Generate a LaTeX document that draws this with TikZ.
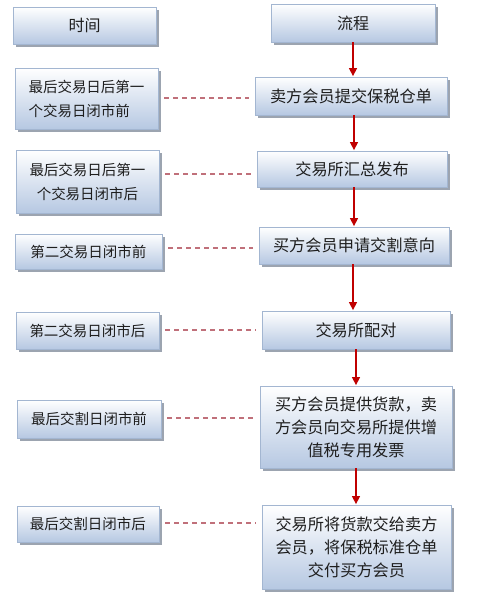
\documentclass[tikz,border=0pt]{standalone}
\usepackage{fontspec}
\setmainfont{Noto Sans CJK SC}
\usetikzlibrary{shadows,arrows.meta}
\definecolor{boxline}{HTML}{A3B6D1}
\definecolor{boxbot}{HTML}{B6C8E2}
\definecolor{shad}{HTML}{9CA4B0}
\definecolor{arrred}{HTML}{C00000}
\definecolor{dashred}{HTML}{C0707A}
\definecolor{txt}{HTML}{1E1E1E}
\tikzset{
  box/.style={draw=boxline, line width=0.8pt, top color=white, bottom color=boxbot,
    text=txt, inner sep=0pt, align=center,
    drop shadow={shadow xshift=2.5pt, shadow yshift=-2.5pt, fill=shad, opacity=1}},
  lbox/.style={box, font=\fontsize{14.5}{24}\selectfont},
  rbox/.style={box, font=\fontsize{16.2}{23}\selectfont},
  hbox/.style={box, font=\fontsize{16}{20}\selectfont},
  flowarr/.style={draw=arrred, line width=1.4pt, -{Triangle[length=8pt,width=8pt]}, shorten >=0.5pt},
  dashln/.style={draw=dashred, line width=1.1pt, dash pattern=on 5pt off 4pt},
}
\begin{document}
\begin{tikzpicture}[x=1pt,y=-1pt]
\useasboundingbox (0,0) rectangle (484,595);
% left column
\node[hbox, minimum width=143pt, minimum height=37pt] (L0) at (84.5,25.5) {时间};
\node[lbox, minimum width=143pt, minimum height=61pt, align=left] (L1) at (86.5,98.5) {最后交易日后第一\\个交易日闭市前};
\node[lbox, minimum width=143pt, minimum height=63pt] (L2) at (87.5,181.5) {最后交易日后第一\\个交易日闭市后};
\node[lbox, minimum width=147pt, minimum height=35pt] (L3) at (88.5,251.5) {第二交易日闭市前};
\node[lbox, minimum width=143pt, minimum height=37pt] (L4) at (87.5,330.5) {第二交易日闭市后};
\node[lbox, minimum width=144pt, minimum height=38pt] (L5) at (89,419) {最后交割日闭市前};
\node[lbox, minimum width=142pt, minimum height=36pt] (L6) at (88,524) {最后交割日闭市后};
% right column
\node[hbox, minimum width=164pt, minimum height=38pt] (R0) at (353,23) {流程};
\node[rbox, minimum width=192pt, minimum height=38pt] (R1) at (351,96) {卖方会员提交保税仓单};
\node[rbox, minimum width=190pt, minimum height=36pt] (R2) at (352,169) {交易所汇总发布};
\node[rbox, minimum width=190pt, minimum height=37pt] (R3) at (354,245.5) {买方会员申请交割意向};
\node[rbox, minimum width=188pt, minimum height=38pt] (R4) at (356,330) {交易所配对};
\node[rbox, minimum width=192pt, minimum height=82pt] (R5) at (356,427) {买方会员提供货款，卖\\方会员向交易所提供增\\值税专用发票};
\node[rbox, minimum width=189pt, minimum height=84pt] (R6) at (356.5,547) {交易所将货款交给卖方\\会员，将保税标准仓单\\交付买方会员};
% arrows
\coordinate (a1) at (353,0);
\coordinate (a2) at (354,0);
\coordinate (a3) at (354,0);
\coordinate (a4) at (353,0);
\coordinate (a5) at (356,0);
\coordinate (a6) at (356,0);
\draw[flowarr] (a1 |- R0.south) -- (a1 |- R1.north);
\draw[flowarr] (a2 |- R1.south) -- (a2 |- R2.north);
\draw[flowarr] (a3 |- R2.south) -- (a3 |- R3.north);
\draw[flowarr] (a4 |- R3.south) -- (a4 |- R4.north);
\draw[flowarr] (a5 |- R4.south) -- (a5 |- R5.north);
\draw[flowarr] (a6 |- R5.south) -- (a6 |- R6.north);
% dashed links
\coordinate (d1) at (0,98);
\coordinate (d2) at (0,174);
\coordinate (d3) at (0,248);
\coordinate (d4) at (0,330);
\coordinate (d5) at (0,418);
\coordinate (d6) at (0,523);
\draw[dashln, shorten <=6pt, shorten >=6pt] (L1.east |- d1) -- (R1.west |- d1);
\draw[dashln, shorten <=6pt, shorten >=6pt] (L2.east |- d2) -- (R2.west |- d2);
\draw[dashln, shorten <=6pt, shorten >=6pt] (L3.east |- d3) -- (R3.west |- d3);
\draw[dashln, shorten <=6pt, shorten >=6pt] (L4.east |- d4) -- (R4.west |- d4);
\draw[dashln, shorten <=6pt, shorten >=6pt] (L5.east |- d5) -- (R5.west |- d5);
\draw[dashln, shorten <=6pt, shorten >=6pt] (L6.east |- d6) -- (R6.west |- d6);
\end{tikzpicture}
\end{document}
